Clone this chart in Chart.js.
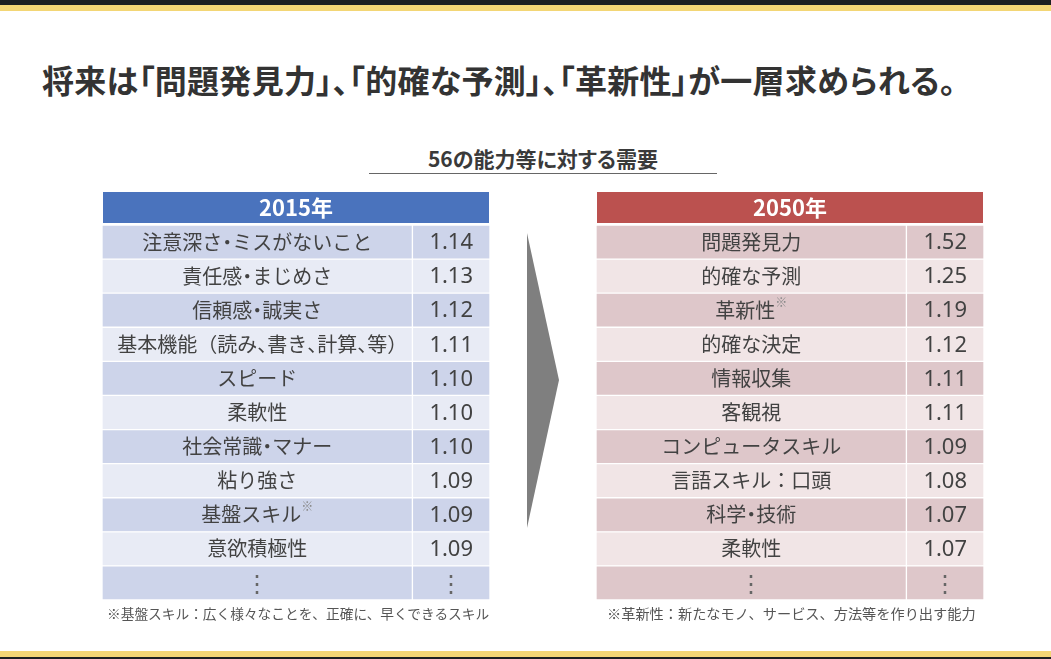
<!DOCTYPE html>
<html lang="ja">
<head>
<meta charset="utf-8">
<script src="https://cdn.jsdelivr.net/npm/chart.js@4.4.1/dist/chart.umd.min.js"></script>
<style>
  html, body { margin:0; padding:0; background:#fff; }
  body { width:1051px; height:659px; position:relative; overflow:hidden;
         font-family:"Noto Sans CJK JP","Noto Sans",sans-serif; }
  .bar { position:absolute; left:0; width:1051px; }
  #title { position:absolute; left:42px; top:62px; margin:0; font-size:32px; line-height:34px;
           font-weight:700; color:#333; white-space:nowrap; font-feature-settings:"palt"; letter-spacing:0.3px; }
  #subtitle { position:absolute; left:369px; width:348px; top:145px; text-align:center; font-size:21px;
              line-height:26px; font-weight:700; color:#3a3a3a; font-feature-settings:"palt"; }
  #rule { position:absolute; left:369px; width:348px; top:173px; height:0; border-top:1.5px solid #666; }
  .note { position:absolute; top:603px; line-height:20px; color:#555; white-space:nowrap; }
  canvas { position:absolute; }
</style>
</head>
<body>
<div class="bar" style="top:0;height:5px;background:#1c1f21"></div>
<div class="bar" style="top:5px;height:6px;background:#f3d675"></div>
<div class="bar" style="top:651px;height:6px;background:#f3d675"></div>
<div class="bar" style="top:657px;height:2px;background:#1c1f21"></div>

<h1 id="title">将来は「問題発見力」、「的確な予測」、「革新性」が一層求められる。</h1>
<div id="subtitle">56の能力等に対する需要</div>
<div id="rule"></div>

<canvas id="c2015" width="388" height="408" style="left:102px;top:192px;width:388px;height:408px"></canvas>
<svg style="position:absolute;left:0;top:0" width="1051" height="659">
  <polygon points="527,233 559,380 527,528" fill="#7f7f7f"/>
</svg>
<canvas id="c2050" width="388" height="408" style="left:596px;top:192px;width:388px;height:408px"></canvas>

<div class="note" style="left:107px;font-size:13.7px">※基盤スキル：広く様々なことを、正確に、早くできるスキル</div>
<div class="note" style="left:607px;font-size:14.2px">※革新性：新たなモノ、サービス、方法等を作り出す能力</div>

<script>
// ---- data ----
const header2015 = "2015年";
const items2015 = ["注意深さ・ミスがないこと","責任感・まじめさ","信頼感・誠実さ","基本機能（読み、書き、計算、等）","スピード","柔軟性","社会常識・マナー","粘り強さ","基盤スキル※","意欲積極性"];
const values2015 = [1.14, 1.13, 1.12, 1.11, 1.10, 1.10, 1.10, 1.09, 1.09, 1.09];

const header2050 = "2050年";
const items2050 = ["問題発見力","的確な予測","革新性※","的確な決定","情報収集","客観視","コンピュータスキル","言語スキル：口頭","科学・技術","柔軟性"];
const values2050 = [1.52, 1.25, 1.19, 1.12, 1.11, 1.11, 1.09, 1.08, 1.07, 1.07];

const moreRow = "⋮";

// proportional punctuation (palt-like) for canvas text
const CENTERED = "・";
const RIGHTSIDE = "";
const LEFTSIDE = "）、。";
function charAdvance(ctx, ch) {
  const w = ctx.measureText(ch).width;
  if (CENTERED.includes(ch) || RIGHTSIDE.includes(ch) || LEFTSIDE.includes(ch)) return w / 2;
  return w;
}
function measurePalt(ctx, text) {
  let w = 0;
  for (const ch of text) w += charAdvance(ctx, ch);
  return w;
}
function drawPalt(ctx, text, x, y) {
  ctx.textAlign = 'left';
  for (const ch of text) {
    const w = ctx.measureText(ch).width;
    let dx = 0;
    if (CENTERED.includes(ch)) dx = -w / 4;
    else if (RIGHTSIDE.includes(ch)) dx = -w / 2;
    ctx.fillText(ch, x + dx, y);
    x += charAdvance(ctx, ch);
  }
  return x;
}

// ---- chart builder ----
function makeTable(canvasId, header, items, values, colors) {
  const labels = items.concat([moreRow]);
  const valueTexts = values.map(v => v.toFixed(2)).concat([moreRow]);
  const rowColors = labels.map((_, i) => i % 2 === 0 ? colors.dark : colors.light);
  const TEXT = '#424242';

  const tablePlugin = {
    id: 'tableText',
    beforeDraw(chart) {
      const { ctx, chartArea } = chart;
      ctx.save();
      ctx.fillStyle = colors.header;
      ctx.fillRect(chartArea.left + 1, 0, chartArea.right - chartArea.left - 2, 31);
      ctx.fillStyle = '#ffffff';
      ctx.font = '700 22px "Noto Sans CJK JP"';
      ctx.textAlign = 'center';
      ctx.textBaseline = 'middle';
      ctx.fillText(header, (chartArea.left + chartArea.right) / 2, 16);
      ctx.restore();
    },
    afterDatasetsDraw(chart) {
      const { ctx } = chart;
      const yScale = chart.scales.y;
      const labelBars = chart.getDatasetMeta(0).data;
      const valueBars = chart.getDatasetMeta(1).data;
      ctx.save();
      ctx.textBaseline = 'middle';
      labels.forEach((lab, i) => {
        const y = yScale.getPixelForValue(i);
        const lb = labelBars[i];
        const cx = (lb.x + lb.base) / 2;
        ctx.fillStyle = TEXT;
        if (lab === moreRow) {
          ctx.textAlign = 'center';
          ctx.fillStyle = '#666';
          ctx.font = '400 24px "Noto Sans CJK JP"';
          ctx.fillText(lab, cx, y);
        } else {
          const sup = lab.endsWith('※');
          const main = sup ? lab.slice(0, -1) : lab;
          ctx.font = '400 20px "Noto Sans CJK JP"';
          const w = measurePalt(ctx, main);
          let sw = 0;
          if (sup) { ctx.font = '400 12px "Noto Sans CJK JP"'; sw = ctx.measureText('※').width; }
          const start = cx - (w + sw) / 2;
          ctx.font = '400 20px "Noto Sans CJK JP"';
          const end = drawPalt(ctx, main, start, y);
          if (sup) {
            ctx.font = '400 12px "Noto Sans CJK JP"';
            ctx.fillStyle = '#888';
            ctx.textAlign = 'left';
            ctx.fillText('※', end, y - 8);
          }
        }
        const vb = valueBars[i];
        const vx = (vb.x + vb.base) / 2;
        ctx.textAlign = 'center';
        if (valueTexts[i] === moreRow) {
          ctx.fillStyle = '#666';
          ctx.font = '400 24px "Noto Sans CJK JP"';
          ctx.fillText(moreRow, vx, y);
        } else {
          ctx.fillStyle = TEXT;
          ctx.font = '400 22px "Noto Sans"';
          ctx.fillText(valueTexts[i], vx, y + 1);
        }
      });
      ctx.restore();
    }
  };

  return new Chart(document.getElementById(canvasId), {
    type: 'bar',
    data: {
      labels: labels,
      datasets: [
        { label: 'name', data: labels.map(() => [0, 0.8]), backgroundColor: rowColors,
          borderColor: '#ffffff', borderWidth: 1, borderSkipped: false, grouped: false,
          barPercentage: 1, categoryPercentage: 1 },
        { label: 'value', data: labels.map(() => [0.8, 1]), backgroundColor: rowColors,
          borderColor: '#ffffff', borderWidth: 1, borderSkipped: false, grouped: false,
          barPercentage: 1, categoryPercentage: 1 }
      ]
    },
    options: {
      indexAxis: 'y',
      responsive: false,
      animation: false,
      devicePixelRatio: 1,
      layout: { padding: { top: 33, bottom: 0, left: 0, right: 0 } },
      plugins: { legend: { display: false }, tooltip: { enabled: false }, title: { display: false } },
      scales: {
        x: { display: false, min: 0, max: 1 },
        y: { display: false, offset: true }
      }
    },
    plugins: [tablePlugin]
  });
}

makeTable('c2015', header2015, items2015, values2015,
  { header: '#4a73bd', dark: '#cdd4ea', light: '#e8ebf5' });
makeTable('c2050', header2050, items2050, values2050,
  { header: '#bb514f', dark: '#dec7ca', light: '#f1e5e6' });
</script>
</body>
</html>
